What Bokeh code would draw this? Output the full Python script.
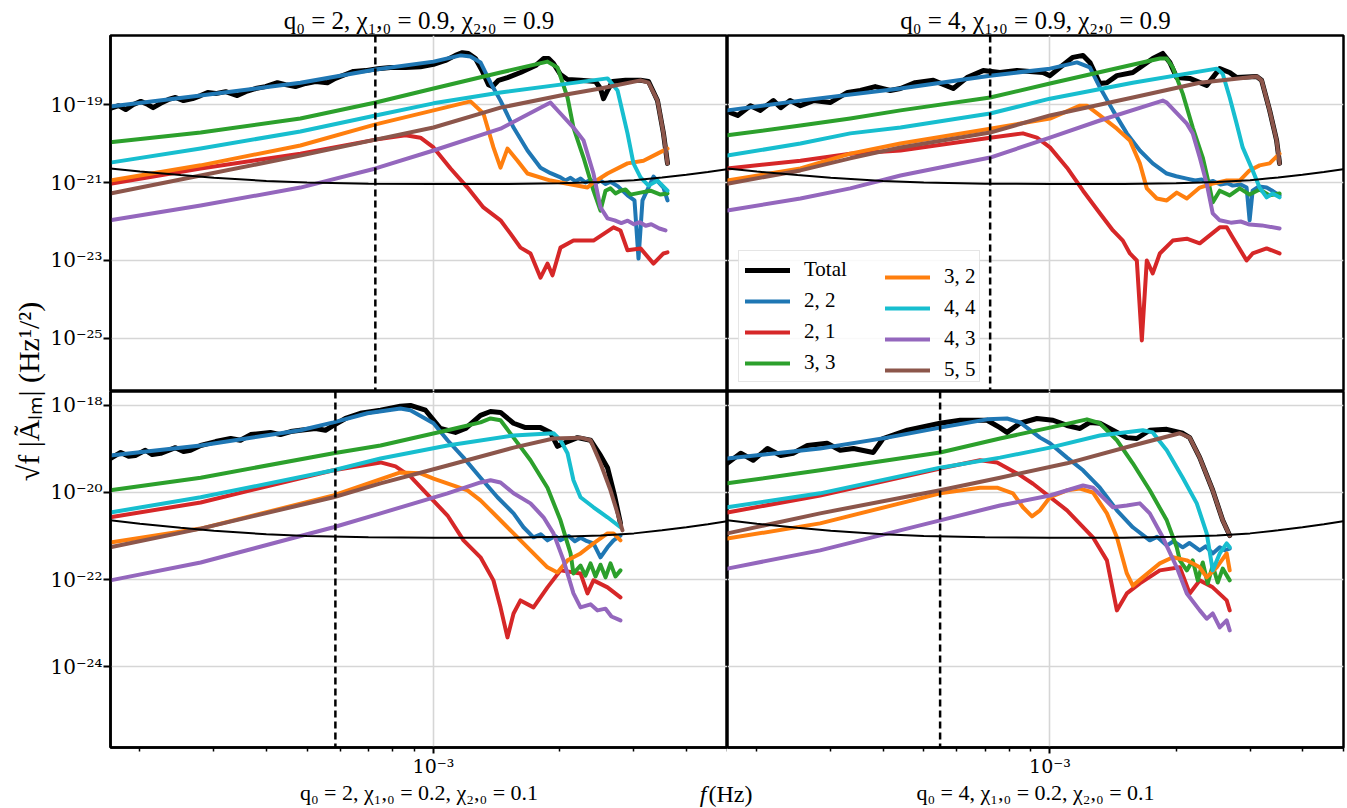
import math
from bokeh.plotting import figure
from bokeh.models import (Range1d, LogAxis, FixedTicker, CustomJSTickFormatter,
                          Span, Legend, LegendItem, Label)
from bokeh.layouts import row, column
from bokeh.embed import file_html
from bokeh.resources import INLINE

# ---------------- data: (frequency in mHz, log10 amplitude) ----------------
NOISE = [(0.170, -20.64), (0.2, -20.72), (0.25, -20.81), (0.3, -20.88), (0.4, -20.96), (0.5, -21.0),
         (0.7, -21.03), (1.0, -21.04), (1.5, -21.04), (2.0, -21.02), (2.5, -20.99), (3.0, -20.94),
         (3.5, -20.87), (4.0, -20.80), (4.5, -20.73), (5.0, -20.66)]

# --- q0=2, chi=0.9/0.9 ---
TL_TOTAL = [(0.170, -19.10), (0.178, -19.03), (0.185, -19.13), (0.193, -19.00), (0.201, -18.92), (0.209, -19.00),
            (0.215, -19.08), (0.224, -18.97), (0.234, -18.87), (0.243, -18.82), (0.254, -18.90), (0.267, -18.85),
            (0.279, -18.77), (0.290, -18.69), (0.303, -18.72), (0.320, -18.67), (0.341, -18.77), (0.357, -18.67),
            (0.377, -18.59), (0.398, -18.54), (0.425, -18.44), (0.444, -18.49), (0.469, -18.54), (0.496, -18.46),
            (0.524, -18.41), (0.559, -18.44), (0.584, -18.33), (0.617, -18.23), (0.645, -18.15), (0.689, -18.13),
            (0.736, -18.08), (0.790, -18.05), (0.858, -18.05), (0.931, -18.03), (1.0, -17.97), (1.068, -17.87),
            (1.128, -17.74), (1.172, -17.67), (1.211, -17.69), (1.259, -17.82), (1.308, -18.15), (1.352, -18.49),
            (1.382, -18.54), (1.428, -18.38), (1.500, -18.31), (1.611, -18.18), (1.750, -18.00), (1.828, -17.82),
            (1.879, -17.82), (1.931, -17.95), (2.006, -18.23), (2.085, -18.36), (2.239, -18.38), (2.431, -18.41),
            (2.498, -18.59), (2.540, -18.85), (2.596, -18.64), (2.668, -18.41), (2.865, -18.38), (3.111, -18.38),
            (3.251, -18.41), (3.415, -18.90), (3.528, -19.74), (3.607, -20.51)]
TL_22 = [(0.170, -19.05), (0.279, -18.77), (0.482, -18.44), (0.728, -18.10), (1.0, -17.90), (1.160, -17.74),
         (1.225, -17.77), (1.294, -17.92), (1.367, -18.44), (1.444, -18.90), (1.551, -19.59), (1.674, -20.18),
         (1.798, -20.62), (1.90, -20.76), (2.006, -20.87), (2.06, -20.95), (2.12, -20.88), (2.18, -20.97),
         (2.24, -20.90), (2.30, -21.00), (2.365, -20.93), (2.43, -21.02), (2.50, -20.95), (2.57, -21.04),
         (2.639, -20.98), (2.75, -21.10), (2.897, -21.33), (3.010, -21.46), (3.077, -22.95), (3.145, -21.46),
         (3.341, -20.85), (3.528, -21.13), (3.607, -21.46)]
TL_21 = [(0.170, -21.03), (0.279, -20.64), (0.482, -20.26), (0.728, -19.90), (0.858, -19.79), (0.931, -19.85),
         (1.0, -20.10), (1.098, -20.64), (1.205, -21.13), (1.315, -21.64), (1.444, -21.97), (1.525, -22.31),
         (1.611, -22.67), (1.702, -22.82), (1.798, -23.44), (1.868, -23.08), (1.920, -23.38), (2.006, -22.67),
         (2.154, -22.49), (2.404, -22.49), (2.683, -22.15), (2.787, -22.23), (2.897, -22.74), (3.111, -22.69),
         (3.341, -23.08), (3.528, -22.82), (3.607, -22.79)]
TL_33 = [(0.170, -19.97), (0.279, -19.72), (0.482, -19.36), (0.728, -18.95), (1.0, -18.59), (1.444, -18.18),
         (1.868, -17.90), (1.973, -18.05), (2.085, -18.82), (2.154, -19.59), (2.276, -20.36), (2.404, -21.21),
         (2.498, -21.72), (2.568, -21.21), (2.639, -21.15), (2.712, -21.28), (2.787, -21.21), (2.865, -21.18),
         (2.944, -21.31), (3.111, -21.26), (3.286, -21.21), (3.471, -21.31), (3.607, -21.28)]
TL_32 = [(0.170, -20.95), (0.279, -20.56), (0.482, -20.05), (0.728, -19.51), (1.0, -19.15), (1.225, -18.92),
         (1.315, -19.23), (1.389, -20.10), (1.444, -20.62), (1.500, -20.13), (1.585, -20.44), (1.674, -20.77),
         (1.899, -20.95), (2.085, -21.03), (2.326, -21.13), (2.404, -21.0), (2.596, -20.77), (2.897, -20.51),
         (3.162, -20.44), (3.415, -20.26), (3.607, -20.13)]
TL_44 = [(0.170, -20.49), (0.279, -20.13), (0.482, -19.69), (0.728, -19.28), (1.0, -18.97), (1.444, -18.69),
         (2.006, -18.49), (2.596, -18.33), (2.743, -18.64), (2.897, -19.74), (2.993, -20.51), (3.111, -20.87),
         (3.251, -21.08), (3.415, -20.95), (3.607, -21.21)]
TL_43 = [(0.170, -21.97), (0.279, -21.59), (0.482, -21.13), (0.728, -20.64), (1.0, -20.18), (1.444, -19.62),
         (1.899, -18.95), (2.006, -19.23), (2.154, -19.59), (2.276, -19.92), (2.404, -20.77), (2.498, -21.64),
         (2.596, -21.92), (2.70, -21.97), (2.80, -22.04), (2.90, -21.98), (3.0, -22.07), (3.1, -22.02),
         (3.2, -22.11), (3.3, -22.07), (3.45, -22.18), (3.568, -22.23)]
TL_55 = [(0.170, -21.28), (0.279, -20.82), (0.482, -20.31), (0.728, -19.90), (1.0, -19.59), (1.444, -19.08),
         (2.006, -18.77), (2.498, -18.59), (3.111, -18.38), (3.251, -18.44), (3.415, -18.90), (3.528, -19.74),
         (3.607, -20.51)]

# --- q0=4, chi=0.9/0.9 ---
TR_TOTAL = [(0.173, -19.21), (0.180, -19.28), (0.193, -19.03), (0.204, -19.15), (0.219, -18.90), (0.228, -19.08),
            (0.240, -18.90), (0.254, -19.03), (0.273, -18.90), (0.299, -18.95), (0.329, -18.69), (0.353, -18.64),
            (0.383, -18.54), (0.416, -18.64), (0.440, -18.59), (0.477, -18.44), (0.527, -18.38), (0.588, -18.59),
            (0.634, -18.31), (0.693, -18.13), (0.760, -18.18), (0.834, -18.13), (0.962, -18.18), (1.0, -18.26),
            (1.056, -18.05), (1.134, -17.79), (1.199, -17.74), (1.245, -17.92), (1.315, -18.46), (1.367, -18.44),
            (1.444, -18.26), (1.576, -18.18), (1.759, -17.82), (1.858, -17.69), (1.931, -17.92), (2.006, -18.31),
            (2.154, -18.33), (2.365, -18.51), (2.444, -18.31), (2.540, -18.08), (2.683, -18.18), (2.787, -18.31),
            (3.111, -18.28), (3.197, -18.38), (3.341, -19.15), (3.471, -19.92), (3.528, -20.51)]
TR_22 = [(0.170, -19.15), (0.254, -18.90), (0.440, -18.59), (0.720, -18.26), (1.0, -18.08), (1.160, -17.92),
         (1.245, -18.05), (1.315, -18.56), (1.413, -19.15), (1.525, -19.74), (1.638, -20.18), (1.758, -20.51),
         (1.899, -20.77), (2.0, -20.84), (2.120, -20.90), (2.22, -20.95), (2.30, -20.92), (2.365, -21.0),
         (2.45, -20.96), (2.55, -21.05), (2.65, -21.02), (2.728, -21.08), (2.85, -21.05), (2.944, -21.13),
         (2.993, -21.97), (3.043, -21.21), (3.15, -21.10), (3.286, -21.13), (3.40, -21.22), (3.528, -21.33)]
TR_21 = [(0.170, -20.64), (0.254, -20.44), (0.334, -20.26), (0.440, -20.18), (0.720, -19.85), (0.862, -19.74),
         (0.931, -19.85), (1.0, -20.10), (1.098, -20.62), (1.199, -21.21), (1.315, -21.79), (1.413, -22.23),
         (1.492, -22.49), (1.551, -22.82), (1.611, -23.0), (1.656, -25.05), (1.702, -23.0), (1.758, -23.33),
         (1.828, -22.82), (1.963, -22.49), (2.120, -22.44), (2.276, -22.56), (2.540, -22.15), (2.639, -22.15),
         (2.728, -22.41), (2.944, -23.0), (3.043, -22.82), (3.286, -22.69), (3.528, -22.82)]
TR_33 = [(0.170, -19.79), (0.254, -19.54), (0.334, -19.36), (0.440, -19.15), (0.720, -18.82), (1.0, -18.46),
         (1.828, -17.82), (1.899, -17.82), (1.963, -18.05), (2.073, -18.72), (2.190, -19.59), (2.314, -20.36),
         (2.404, -21.13), (2.444, -21.51), (2.540, -21.21), (2.683, -21.33), (2.834, -21.15), (2.993, -21.31),
         (3.162, -21.18), (3.341, -21.33), (3.528, -21.28)]
TR_32 = [(0.170, -20.95), (0.254, -20.64), (0.334, -20.26), (0.440, -20.0), (0.720, -19.62), (1.0, -19.36),
         (1.179, -19.03), (1.225, -19.03), (1.315, -19.28), (1.444, -19.62), (1.551, -19.92), (1.638, -20.51),
         (1.702, -21.15), (1.798, -21.41), (1.899, -21.46), (2.006, -21.26), (2.120, -21.41), (2.276, -21.13),
         (2.444, -21.03), (2.639, -20.95), (2.834, -20.95), (2.993, -20.69), (3.162, -20.56), (3.341, -20.51),
         (3.528, -20.26)]
TR_44 = [(0.170, -20.31), (0.254, -20.0), (0.334, -19.74), (0.440, -19.59), (0.720, -19.23), (1.0, -18.85),
         (1.576, -18.44), (2.498, -18.08), (2.582, -18.21), (2.683, -18.82), (2.787, -19.49), (2.881, -20.10),
         (3.043, -20.69), (3.162, -21.13), (3.286, -21.38), (3.396, -21.28), (3.528, -21.38)]
TR_43 = [(0.170, -21.72), (0.254, -21.41), (0.334, -21.15), (0.440, -20.82), (0.720, -20.36), (1.0, -19.85),
         (1.315, -19.41), (1.858, -18.90), (1.899, -18.95), (2.120, -19.49), (2.190, -19.74), (2.276, -20.36),
         (2.365, -21.03), (2.444, -21.79), (2.540, -21.97), (2.70, -22.03), (2.85, -22.0), (2.993, -22.08),
         (3.2, -22.10), (3.528, -22.18)]
TR_55 = [(0.170, -21.03), (0.254, -20.69), (0.334, -20.38), (0.440, -20.10), (0.720, -19.72), (1.0, -19.28),
         (1.576, -18.82), (2.276, -18.44), (3.111, -18.28), (3.197, -18.38), (3.341, -19.15), (3.471, -19.92),
         (3.528, -20.51)]

# --- q0=2, chi=0.2/0.1 ---
BL_TOTAL = [(0.170, -19.22), (0.180, -19.08), (0.188, -19.17), (0.195, -19.15), (0.206, -19.03), (0.214, -19.13),
            (0.224, -19.10), (0.243, -18.97), (0.254, -19.06), (0.264, -19.03), (0.279, -18.92), (0.303, -18.83),
            (0.329, -18.76), (0.347, -18.80), (0.367, -18.67), (0.409, -18.62), (0.432, -18.67), (0.457, -18.60),
            (0.482, -18.57), (0.524, -18.53), (0.553, -18.57), (0.578, -18.46), (0.617, -18.30), (0.670, -18.18),
            (0.748, -18.11), (0.834, -18.02), (0.881, -18.0), (0.957, -18.11), (1.039, -18.53), (1.128, -18.62),
            (1.192, -18.53), (1.294, -18.23), (1.367, -18.14), (1.444, -18.16), (1.551, -18.41), (1.656, -18.51),
            (1.798, -18.51), (1.899, -18.62), (1.973, -18.94), (2.062, -18.85), (2.202, -18.74), (2.365, -18.80),
            (2.498, -19.15), (2.596, -19.43), (2.698, -20.07), (2.787, -20.71)]
BL_22 = [(0.170, -19.15), (0.279, -18.92), (0.482, -18.57), (0.578, -18.39), (0.696, -18.18), (0.834, -18.07),
         (0.881, -18.11), (1.0, -18.41), (1.080, -18.80), (1.179, -19.20), (1.294, -19.66), (1.420, -20.11),
         (1.551, -20.48), (1.638, -20.80), (1.730, -21.03), (1.80, -20.96), (1.868, -21.10), (1.95, -21.0),
         (2.006, -21.10), (2.1, -21.0), (2.17, -21.12), (2.239, -21.04), (2.32, -21.12), (2.404, -21.17),
         (2.498, -21.49), (2.596, -21.26), (2.683, -21.10), (2.787, -20.99)]
BL_21 = [(0.170, -20.57), (0.279, -20.23), (0.578, -19.49), (0.748, -19.31), (0.812, -19.40), (0.881, -19.63),
         (0.957, -20.0), (1.080, -20.53), (1.179, -21.10), (1.294, -21.49), (1.389, -22.02), (1.444, -22.64),
         (1.500, -23.33), (1.551, -22.78), (1.611, -22.48), (1.730, -22.64), (1.868, -22.18), (2.006, -21.79),
         (2.239, -21.86), (2.326, -22.32), (2.404, -22.02), (2.596, -22.18), (2.787, -22.41)]
BL_33 = [(0.170, -19.95), (0.279, -19.66), (0.578, -19.10), (0.748, -18.92), (1.080, -18.57), (1.294, -18.39),
         (1.367, -18.30), (1.444, -18.34), (1.551, -18.74), (1.702, -19.26), (1.868, -19.89), (2.006, -20.64),
         (2.120, -21.40), (2.154, -21.86), (2.239, -21.68), (2.301, -21.91), (2.365, -21.63), (2.431, -21.93),
         (2.498, -21.66), (2.568, -21.95), (2.639, -21.63), (2.712, -21.93), (2.787, -21.79)]
BL_32 = [(0.170, -21.15), (0.279, -20.83), (0.578, -20.07), (0.834, -19.54), (0.931, -19.56), (1.0, -19.68),
         (1.205, -19.95), (1.294, -20.18), (1.420, -20.57), (1.551, -20.94), (1.702, -21.33), (1.868, -21.72),
         (1.973, -21.84), (2.085, -21.56), (2.239, -21.40), (2.404, -21.17), (2.596, -20.94), (2.683, -20.94),
         (2.787, -21.10)]
BL_44 = [(0.170, -20.46), (0.279, -20.11), (0.578, -19.49), (0.748, -19.22), (1.080, -18.92), (1.551, -18.69),
         (1.931, -18.64), (2.006, -18.80), (2.085, -19.10), (2.154, -19.72), (2.239, -20.11), (2.404, -20.34),
         (2.596, -20.57), (2.787, -20.80)]
BL_43 = [(0.170, -22.02), (0.279, -21.61), (0.578, -20.80), (0.748, -20.48), (1.080, -20.02), (1.294, -19.77),
         (1.367, -19.72), (1.444, -19.77), (1.551, -20.02), (1.702, -20.25), (1.828, -20.57), (1.931, -20.94),
         (2.040, -21.56), (2.154, -22.32), (2.239, -22.64), (2.365, -22.57), (2.458, -22.71), (2.568, -22.67),
         (2.653, -22.85), (2.787, -22.94)]
BL_55 = [(0.170, -21.26), (0.279, -20.83), (0.578, -20.11), (0.748, -19.79), (1.080, -19.38), (1.551, -18.97),
         (1.931, -18.76), (2.239, -18.74), (2.365, -18.80), (2.498, -19.33), (2.639, -19.95), (2.743, -20.48),
         (2.818, -20.87)]

# --- q0=4, chi=0.2/0.1 ---
BR_TOTAL = [(0.170, -19.33), (0.183, -19.10), (0.196, -19.26), (0.212, -18.99), (0.228, -19.15), (0.244, -19.10),
            (0.264, -18.92), (0.294, -18.87), (0.316, -19.03), (0.340, -18.99), (0.379, -19.08), (0.400, -18.76),
            (0.457, -18.57), (0.547, -18.41), (0.611, -18.34), (0.708, -18.34), (0.760, -18.51), (0.790, -18.62),
            (0.848, -18.41), (0.931, -18.30), (1.017, -18.34), (1.098, -18.46), (1.179, -18.53), (1.245, -18.39),
            (1.315, -18.41), (1.413, -18.57), (1.525, -18.74), (1.611, -18.76), (1.730, -18.57), (1.899, -18.55),
            (2.073, -18.64), (2.154, -18.74), (2.276, -19.20), (2.444, -19.95), (2.582, -20.64), (2.683, -20.99)]
BR_22 = [(0.170, -19.22), (0.283, -18.99), (0.409, -18.74), (0.547, -18.51), (0.708, -18.32), (0.790, -18.30),
         (0.848, -18.39), (0.947, -18.74), (1.0, -18.87), (1.098, -19.20), (1.199, -19.49), (1.315, -19.89),
         (1.444, -20.41), (1.576, -20.80), (1.730, -21.10), (1.80, -21.02), (1.899, -21.22), (1.97, -21.12),
         (2.073, -21.26), (2.15, -21.16), (2.276, -21.33), (2.35, -21.24), (2.444, -21.40), (2.540, -21.26),
         (2.61, -21.33), (2.683, -21.29)]
BR_21 = [(0.170, -20.46), (0.283, -20.07), (0.547, -19.45), (0.681, -19.26), (0.748, -19.31), (0.848, -19.60),
         (0.911, -19.80), (1.098, -20.41), (1.266, -21.03), (1.367, -21.56), (1.444, -22.71), (1.525, -22.32),
         (1.638, -22.09), (1.828, -21.79), (2.040, -21.72), (2.154, -22.32), (2.276, -22.02), (2.444, -22.18),
         (2.639, -22.48), (2.683, -22.71)]
BR_33 = [(0.170, -19.79), (0.283, -19.49), (0.547, -19.08), (0.760, -18.76), (1.0, -18.51), (1.225, -18.32),
         (1.315, -18.41), (1.444, -18.80), (1.576, -19.33), (1.730, -19.95), (1.899, -20.64), (2.006, -21.26),
         (2.040, -21.56), (2.120, -21.79), (2.190, -21.56), (2.251, -22.02), (2.314, -21.61), (2.378, -22.09),
         (2.444, -21.68), (2.512, -22.07), (2.582, -21.75), (2.683, -22.02)]
BR_32 = [(0.170, -21.06), (0.283, -20.71), (0.547, -20.02), (0.681, -19.89), (0.748, -19.89), (0.816, -20.02),
         (0.862, -20.34), (0.906, -20.55), (0.947, -20.41), (1.0, -20.11), (1.098, -19.95), (1.179, -19.91),
         (1.266, -20.0), (1.367, -20.48), (1.444, -21.03), (1.525, -21.86), (1.576, -22.14), (1.665, -21.95),
         (1.828, -21.63), (1.963, -21.49), (2.120, -21.56), (2.276, -21.72), (2.365, -21.95), (2.498, -21.72),
         (2.639, -21.40), (2.683, -21.79)]
BR_44 = [(0.170, -20.34), (0.283, -20.02), (0.547, -19.43), (0.760, -19.20), (1.0, -18.97), (1.315, -18.69),
         (1.665, -18.57), (1.758, -18.62), (1.899, -19.03), (2.073, -19.66), (2.239, -20.25), (2.365, -20.94),
         (2.444, -21.79), (2.540, -21.40), (2.639, -21.17), (2.683, -21.26)]
BR_43 = [(0.170, -21.75), (0.283, -21.33), (0.547, -20.64), (0.760, -20.30), (1.0, -20.07), (1.199, -19.84),
         (1.266, -19.89), (1.413, -20.34), (1.525, -20.30), (1.638, -20.25), (1.730, -20.48), (1.858, -21.03),
         (2.006, -21.72), (2.120, -22.32), (2.276, -22.71), (2.365, -22.90), (2.444, -22.78), (2.540, -23.10),
         (2.639, -22.94), (2.683, -23.17)]
BR_55 = [(0.170, -20.94), (0.283, -20.48), (0.547, -19.95), (0.760, -19.66), (1.098, -19.33), (1.576, -18.92),
         (2.040, -18.64), (2.154, -18.74), (2.276, -19.20), (2.444, -19.95), (2.582, -20.64), (2.683, -20.99)]

# reference (dashed) frequencies, mHz
DASH_F = [0.727, 0.720, 0.584, 0.547]

MODE_LABELS = ["2, 2", "2, 1", "3, 3", "3, 2", "4, 4", "4, 3", "5, 5"]
MODE_COLORS = ["#1f77b4", "#d62728", "#2ca02c", "#ff7f0e", "#17becf", "#9467bd", "#8c564b"]

TITLES = ["q₀ = 2, χ₁,₀ = 0.9, χ₂,₀ = 0.9", "q₀ = 4, χ₁,₀ = 0.9, χ₂,₀ = 0.9",
          "q₀ = 2, χ₁,₀ = 0.2, χ₂,₀ = 0.1", "q₀ = 4, χ₁,₀ = 0.2, χ₂,₀ = 0.1"]
Y_LABEL = "√f |Ãₗₘ| (Hz¹/²)"

X_RANGE = (1.702e-4, 5.012e-3)
TOP_Y = (10 ** -26.36, 10 ** -17.23)
BOT_Y = (10 ** -25.86, 10 ** -17.68)
TOP_TICKS = [1e-25, 1e-23, 1e-21, 1e-19]
BOT_TICKS = [1e-24, 1e-22, 1e-20, 1e-18]
X_TICKS = [1e-3]
X_MINOR = [2e-4, 3e-4, 4e-4, 5e-4, 6e-4, 7e-4, 8e-4, 9e-4, 2e-3, 3e-3, 4e-3, 5e-3]

FONT = "Liberation Serif"
TICK_FONT = "DejaVu Serif"
SUP_JS = """
const s = {'-':'\u207b','0':'\u2070','1':'\u00b9','2':'\u00b2','3':'\u00b3','4':'\u2074',
           '5':'\u2075','6':'\u2076','7':'\u2077','8':'\u2078','9':'\u2079'};
const e = Math.round(Math.log10(tick));
return '10' + String(e).split('').map(c => s[c]).join('');
"""


def xy(pairs):
    return [p[0] * 1e-3 for p in pairs], [10 ** p[1] for p in pairs]


def style_axis(ax, size, tick_out):
    ax.axis_line_color = "black"
    ax.axis_line_width = 2.5
    ax.major_tick_line_color = "black"
    ax.major_tick_line_width = 2
    ax.major_tick_out = tick_out
    ax.major_tick_in = 0
    ax.minor_tick_line_color = "black"
    ax.minor_tick_line_width = 1.5
    ax.minor_tick_out = 4
    ax.minor_tick_in = 0
    ax.major_label_text_font = TICK_FONT
    ax.major_label_text_font_size = size
    ax.major_label_text_color = "black"
    ax.major_label_standoff = 1


def panel(total, modes, dash, yr, yticks, w, h, ml, mr, mt, mb, left, bottom, title=None):
    kw = {}
    if title is not None:
        kw["title"] = title
    p = figure(width=w, height=h, x_axis_type="log", y_axis_type="log",
               x_axis_location=None, y_axis_location=None,
               x_range=Range1d(*X_RANGE), y_range=Range1d(*yr),
               toolbar_location=None, output_backend="svg",
               min_border_left=ml, min_border_right=mr, min_border_top=mt, min_border_bottom=mb, **kw)
    p.background_fill_color = "white"
    p.border_fill_color = "white"
    p.outline_line_color = "black"
    p.outline_line_width = 2.5
    p.outline_line_alpha = 1.0
    p.xgrid.ticker = FixedTicker(ticks=X_TICKS)
    p.ygrid.ticker = FixedTicker(ticks=yticks)
    for g in (p.xgrid, p.ygrid):
        g.grid_line_color = "#d6d6d6"
        g.grid_line_width = 1.6
    if title is not None:
        p.title.text_font = FONT
        p.title.text_font_size = "25px"
        p.title.text_font_style = "normal"
        p.title.text_color = "black"
        p.title.align = "center"
        p.title.standoff = 3
    if left:
        ax = LogAxis(ticker=FixedTicker(ticks=yticks, minor_ticks=[]),
                     formatter=CustomJSTickFormatter(code=SUP_JS))
        style_axis(ax, "20px", 7)
        p.add_layout(ax, "left")
    if bottom:
        ax = LogAxis(ticker=FixedTicker(ticks=X_TICKS, minor_ticks=X_MINOR),
                     formatter=CustomJSTickFormatter(code=SUP_JS))
        style_axis(ax, "19px", 6)
        p.add_layout(ax, "below")
    rends = {}
    tx, ty = xy(total)
    rends["Total"] = p.line(tx, ty, line_color="black", line_width=5, line_join="round", line_cap="round")
    for lab, col, data in zip(MODE_LABELS, MODE_COLORS, modes):
        mx, my = xy(data)
        rends[lab] = p.line(mx, my, line_color=col, line_width=4, line_join="round", line_cap="round")
    nx, ny = xy(NOISE)
    p.line(nx, ny, line_color="black", line_width=2)
    p.add_layout(Span(location=dash * 1e-3, dimension="height", line_color="black",
                      line_width=2.5, line_dash="7 4"))
    return p, rends


FW_L, FW_R, FH = 617, 616, 356
ML, MT, MB = 64, 35, 32
XS_H = 28
YS_W = 46

tl, _ = panel(TL_TOTAL, [TL_22, TL_21, TL_33, TL_32, TL_44, TL_43, TL_55], DASH_F[0], TOP_Y, TOP_TICKS,
              ML + FW_L, MT + FH, ML, 0, MT, 0, True, False, TITLES[0])
tr, rtr = panel(TR_TOTAL, [TR_22, TR_21, TR_33, TR_32, TR_44, TR_43, TR_55], DASH_F[1], TOP_Y, TOP_TICKS,
                FW_R + 2, MT + FH, 0, 2, MT, 0, False, False, TITLES[1])
bl, _ = panel(BL_TOTAL, [BL_22, BL_21, BL_33, BL_32, BL_44, BL_43, BL_55], DASH_F[2], BOT_Y, BOT_TICKS,
              ML + FW_L, FH + MB, ML, 0, 0, MB, True, True)
br, _ = panel(BR_TOTAL, [BR_22, BR_21, BR_33, BR_32, BR_44, BR_43, BR_55], DASH_F[3], BOT_Y, BOT_TICKS,
              FW_R + 2, FH + MB, 0, 2, 0, MB, False, True)

# legend (two columns, drawn as two legends sharing one frame)
leg_common = dict(orientation="vertical", padding=6, spacing=6, glyph_width=45, glyph_height=22,
                  label_height=22, label_standoff=14, label_text_font=FONT, label_text_font_size="21px",
                  label_text_color="black", margin=0)
col1 = ["Total", "2, 2", "2, 1", "3, 3"]
col2 = ["3, 2", "4, 4", "4, 3", "5, 5"]
leg_a = Legend(items=[LegendItem(label=l, renderers=[rtr[l]]) for l in col1], location=(11, 9),
               label_width=169, border_line_color="#cccccc", border_line_width=1,
               background_fill_color="white", background_fill_alpha=0.85, **leg_common)
leg_b = Legend(items=[LegendItem(label=l, renderers=[rtr[l]]) for l in col2], location=(158, 9),
               label_width=30, border_line_color=None, background_fill_alpha=0.0, **leg_common)
tr.add_layout(leg_a)
tr.add_layout(leg_b)


def strip(w, h):
    s = figure(width=w, height=h, x_range=Range1d(0, 1), y_range=Range1d(0, 1),
               x_axis_location=None, y_axis_location=None, toolbar_location=None,
               output_backend="svg", min_border=0)
    s.xgrid.visible = False
    s.ygrid.visible = False
    s.outline_line_color = None
    s.background_fill_color = "white"
    s.border_fill_color = "white"
    return s


TOTAL_H = (MT + FH) + (FH + MB) + XS_H
ys = strip(YS_W, TOTAL_H)
ys.add_layout(Label(x=28, y=TOTAL_H - 391, x_units="screen", y_units="screen", text=Y_LABEL,
                    angle=math.pi / 2, text_align="center", text_baseline="middle",
                    text_font=FONT, text_font_size="30px", text_color="black"))

XS_W = ML + FW_L + FW_R + 2
xs = strip(XS_W, XS_H)
xs.add_layout(Label(x=ML + FW_L / 2, y=15, x_units="screen", y_units="screen", text=TITLES[2],
                    text_align="center", text_baseline="middle", text_font=FONT,
                    text_font_size="22px", text_color="black"))
xs.add_layout(Label(x=ML + FW_L + FW_R / 2, y=15, x_units="screen", y_units="screen", text=TITLES[3],
                    text_align="center", text_baseline="middle", text_font=FONT,
                    text_font_size="22px", text_color="black"))
xs.add_layout(Label(x=ML + FW_L - 21, y=1, x_units="screen", y_units="screen", text="f",
                    text_align="right", text_baseline="bottom", text_font=FONT,
                    text_font_size="24px", text_font_style="italic", text_color="black"))
xs.add_layout(Label(x=ML + FW_L - 19, y=1, x_units="screen", y_units="screen", text="(Hz)",
                    text_align="left", text_baseline="bottom", text_font=FONT,
                    text_font_size="24px", text_color="black"))

layout = row(ys, column(row(tl, tr), row(bl, br), xs))

with open("out.html", "w", encoding="utf-8") as fh:
    fh.write(file_html(layout, INLINE))
